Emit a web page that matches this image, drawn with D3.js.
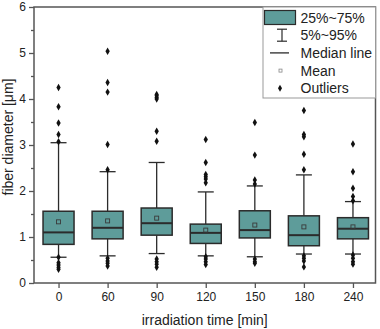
<!DOCTYPE html>
<html><head><meta charset="utf-8">
<script src="https://cdn.jsdelivr.net/npm/d3@7"></script>
<style>body{margin:0;background:#fff}svg{display:block;font-family:"Liberation Sans",Arial,sans-serif}</style>
</head><body><svg id="c" width="380" height="329"></svg>
<script>
const categories = ["0","60","90","120","150","180","240"];
const q1 = [0.84,0.96,1.04,0.86,0.98,0.81,0.96];
const median = [1.10,1.20,1.30,1.09,1.15,1.04,1.18];
const q3 = [1.56,1.56,1.63,1.28,1.57,1.46,1.42];
const mean = [1.33,1.35,1.41,1.15,1.26,1.22,1.22];
const whiskerLow = [0.56,0.59,0.64,0.59,0.57,0.63,0.63];
const whiskerHigh = [3.05,2.42,2.62,1.98,2.11,2.35,1.77];
const outliers = [
  [4.25,3.83,3.48,3.23,3.07,0.56,0.44,0.39,0.34,0.30],
  [5.04,4.36,4.15,3.01,2.46,0.54,0.48,0.43,0.37],
  [4.10,4.07,4.03,4.00,3.30,3.08,0.52,0.46,0.41,0.34],
  [3.12,2.62,2.36,2.31,2.26,2.18,0.57,0.52,0.46,0.40],
  [3.49,2.78,2.24,2.15,0.52,0.46,0.43],
  [3.75,3.23,3.18,2.80,2.46,0.59,0.54,0.48,0.35],
  [3.02,2.42,2.06,1.88,1.79,0.61,0.54,0.46,0.41]
];
const yTicks = [0,1,2,3,4,5,6];
const legendLabels = ["25%~75%","5%~95%","Median line","Mean","Outliers"];

const W=380,H=329, L=34, R=375.5, T=7, B=283;
const svg = d3.select("#c");
const x = d3.scalePoint().domain(categories).range([L, 377.5]).padding(0.5);
const y = d3.scaleLinear().domain([0,6]).range([B,T]);
const boxW = 31, capW = 16;
const fill = "#5e9c9a", dark = "#2b2b2b", axisC = "#555";

// axes
const yAxis = d3.axisLeft(y).tickValues(yTicks).tickFormat(d3.format("d")).tickSize(5).tickPadding(3);
const gy = svg.append("g").attr("transform",`translate(${L},0)`).call(yAxis);
svg.append("g").attr("transform",`translate(${L},0)`)
  .call(d3.axisLeft(y).tickValues(d3.range(0.5,6,1)).tickSize(3).tickFormat(""))
  .call(g=>g.select(".domain").remove());
const xAxis = d3.axisBottom(x).tickSize(5).tickPadding(4);
const gx = svg.append("g").attr("transform",`translate(0,${B})`).call(xAxis);
gx.select(".domain").remove();
gy.select(".domain").remove();
svg.selectAll(".tick line").attr("stroke",axisC).attr("stroke-width",1.3);
svg.selectAll(".tick text").attr("fill","#222").style("font-size","12px");

// frame
svg.append("rect").attr("x",L).attr("y",T).attr("width",R-L).attr("height",B-T)
  .attr("fill","none").attr("stroke",axisC).attr("stroke-width",1.5);

// boxes
const g = svg.append("g");
categories.forEach((c,i)=>{
  const cx = x(c);
  g.append("line").attr("x1",cx).attr("x2",cx).attr("y1",y(whiskerHigh[i])).attr("y2",y(q3[i])).attr("stroke",dark).attr("stroke-width",1.3);
  g.append("line").attr("x1",cx).attr("x2",cx).attr("y1",y(whiskerLow[i])).attr("y2",y(q1[i])).attr("stroke",dark).attr("stroke-width",1.3);
  [whiskerHigh[i],whiskerLow[i]].forEach(v=>{
    g.append("line").attr("x1",cx-capW/2).attr("x2",cx+capW/2).attr("y1",y(v)).attr("y2",y(v)).attr("stroke",dark).attr("stroke-width",1.3);
  });
  g.append("rect").attr("x",cx-boxW/2).attr("y",y(q3[i])).attr("width",boxW).attr("height",y(q1[i])-y(q3[i]))
    .attr("fill",fill).attr("stroke",dark).attr("stroke-width",1.5);
  g.append("line").attr("x1",cx-boxW/2).attr("x2",cx+boxW/2).attr("y1",y(median[i])).attr("y2",y(median[i])).attr("stroke",dark).attr("stroke-width",2);
  g.append("rect").attr("x",cx-2).attr("y",y(mean[i])-2).attr("width",4).attr("height",4).attr("fill","none").attr("stroke","#3a3a3a").attr("stroke-width",0.9);
  outliers[i].forEach(v=>{
    g.append("path").attr("d",d3.symbol(d3.symbolDiamond,16)()).attr("transform",`translate(${cx},${y(v)})`).attr("fill","#111");
  });
});

// axis titles
svg.append("text").attr("x",(L+R)/2).attr("y",325).attr("text-anchor","middle").style("font-size","14px").attr("fill","#222").text("irradiation time [min]");
svg.append("text").attr("transform",`translate(13,137) rotate(-90)`).attr("text-anchor","middle").style("font-size","14px").attr("fill","#222").text("fiber diameter [μm]");

// legend
const lg = svg.append("g");
lg.append("rect").attr("x",263).attr("y",T).attr("width",R-263).attr("height",91).attr("fill","#fff").attr("stroke","#999").attr("stroke-width",1);
const rowY = [17.5,35.2,52.9,70.6,88.3];
const sx = 280;
lg.append("rect").attr("x",264.5).attr("y",10.5).attr("width",31).attr("height",14).attr("fill",fill).attr("stroke",dark).attr("stroke-width",1.2);
lg.append("line").attr("x1",sx+2).attr("x2",sx+2).attr("y1",rowY[1]-6).attr("y2",rowY[1]+6).attr("stroke",dark).attr("stroke-width",1.2);
lg.append("line").attr("x1",sx-3).attr("x2",sx+7).attr("y1",rowY[1]-6).attr("y2",rowY[1]-6).attr("stroke",dark).attr("stroke-width",1.2);
lg.append("line").attr("x1",sx-3).attr("x2",sx+7).attr("y1",rowY[1]+6).attr("y2",rowY[1]+6).attr("stroke",dark).attr("stroke-width",1.2);
lg.append("line").attr("x1",270).attr("x2",289).attr("y1",rowY[2]).attr("y2",rowY[2]).attr("stroke",dark).attr("stroke-width",1.3);
lg.append("rect").attr("x",sx-1).attr("y",rowY[3]-1.5).attr("width",3).attr("height",3).attr("fill","none").attr("stroke","#888").attr("stroke-width",0.8);
lg.append("path").attr("d",d3.symbol(d3.symbolDiamond,14)()).attr("transform",`translate(${sx},${rowY[4]})`).attr("fill","#111");
legendLabels.forEach((t,i)=>{
  lg.append("text").attr("x",300.5).attr("y",rowY[i]+5).style("font-size","14px").attr("fill","#222").text(t);
});
</script></body></html>
